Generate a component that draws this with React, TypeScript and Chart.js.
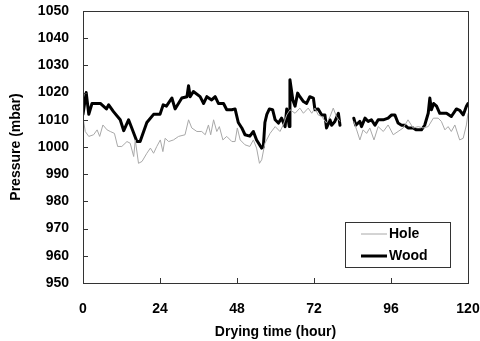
import React, { useEffect, useRef } from "react";
import { Chart, registerables } from "chart.js";

Chart.register(...registerables);

const holeX = [0, 0.7, 1.8, 3.3, 4.4, 5.2, 6.2, 7.5, 8.5, 9.8, 10.8, 12.1, 13.7, 14.7, 15.8, 16.3, 17.3, 18.4, 19.9, 21, 22, 23, 24.1, 24.9, 25.6, 26.7, 28.2, 29.8, 31.8, 32.9, 33.9, 35.5, 37, 38.1, 39.1, 39.8, 40.7, 41.7, 42.5, 43.6, 44.8, 46.4, 47.4, 48.1, 49, 50.5, 52, 53.1, 54.1, 55, 55.7, 56.7, 58.3, 59.9, 61.4, 62.4, 63.5, 64.5, 66.1, 67.6, 68.7, 70.2, 71.3, 72.3, 73.3, 74.4, 75.9, 77, 78, 79, 80.1, 82, 84.4, 85.3, 86.3, 87.3, 88.4, 89.4, 90.7, 92, 93.6, 95.1, 96.7, 98.2, 99.8, 101.3, 102.9, 104.5, 106, 107.6, 109.2, 110.7, 111.7, 112.8, 113.8, 114.8, 115.9, 117.4, 118.5, 119.5, 120];
const holeY = [1011, 1005.7, 1003.9, 1004.5, 1006.3, 1003.9, 1008.1, 1006.3, 1005.7, 1005, 1000.2, 1000.2, 1002, 1001.4, 996.5, 1002.6, 994, 994.7, 997.7, 999.6, 997.7, 1000.2, 1002.6, 998.3, 1003.2, 1002, 1002.6, 1003.9, 1004.5, 1010, 1007, 1005.7, 1005.7, 1004.5, 1008.1, 1004.5, 1010, 1005.7, 1007.5, 1002.6, 1003.9, 1002, 1002, 1007, 1002.6, 1000.8, 1000.2, 1002.6, 999.6, 994, 995.3, 1001.4, 1005, 1007.5, 1005.7, 1008.1, 1011.8, 1013.7, 1012.4, 1014.3, 1012.4, 1014.3, 1012.4, 1014.3, 1011.8, 1011.2, 1008.8, 1011.2, 1014.3, 1011.2, 1009.4, null, 1009.4, 1006.3, 1002.6, 1006.3, 1005, 1007, 1002.6, 1007.5, 1005.7, 1008.1, 1004.5, 1005.7, 1007, 1010, 1007, 1007.5, 1007, 1007.5, 1010.6, 1010.6, 1009.4, 1006.3, 1007.5, 1005.7, 1008.1, 1002.6, 1003.2, 1008.1, 1012.4];

const woodX = [0, 1, 1.8, 2.8, 5.4, 7.3, 8, 9.5, 11.6, 12.7, 14.2, 15.2, 16.8, 17.8, 19.9, 22, 24, 25, 26, 27.7, 28.7, 30.8, 32.4, 32.9, 33.4, 34.4, 36.5, 37.6, 38.6, 40.1, 41.2, 42.2, 43.8, 44.8, 46.4, 47.4, 48.4, 49.5, 50.5, 52, 53.1, 54.1, 55.7, 56.2, 56.7, 57.3, 58.1, 59.1, 59.9, 60.9, 61.9, 63, 63.5, 64.3, 64.5, 65.4, 66.1, 66.9, 67.6, 68.7, 69.7, 70.7, 71.8, 72.3, 73.3, 74.4, 75.4, 75.9, 77, 77.5, 78.5, 79.6, 80.1, 82, 84.4, 85, 86.3, 86.8, 87.9, 88.9, 89.9, 91, 92, 93.6, 95.1, 96.2, 97.2, 98.2, 99.3, 100.3, 101.3, 102.9, 103.9, 105.5, 106.5, 107.6, 108.1, 108.6, 109.3, 110.2, 111.2, 113.3, 114.8, 116.4, 117.4, 118.5, 119.5, 120];
const woodY = [1012, 1020, 1012, 1016, 1016, 1014, 1015.5, 1013, 1010, 1006, 1010, 1007, 1002, 1002, 1009, 1012, 1012, 1015.5, 1015, 1018, 1014, 1018, 1018.5, 1022.5, 1018.5, 1020.4, 1018.5, 1016, 1018.5, 1017.3, 1018.5, 1016, 1016, 1013.7, 1013.7, 1014, 1009, 1007, 1004.5, 1004, 1005.7, 1002.6, 999.6, 1000, 1009, 1012, 1014, 1013.7, 1010, 1008.8, 1010.6, 1007.5, 1014, 1007.5, 1024.7, 1017.3, 1015, 1019.8, 1018.5, 1016.7, 1016, 1018.5, 1018, 1013.7, 1014, 1011.8, 1011.8, 1007, 1010, 1008, 1009.4, 1012.4, 1008, null, 1010.6, 1008, 1009.4, 1007.5, 1010.6, 1009.4, 1010, 1008, 1010, 1010, 1010.6, 1011.8, 1011.8, 1008.8, 1008, 1008, 1007, 1007, 1006.3, 1006.3, 1008, 1012.4, 1018, 1013.7, 1016, 1015, 1012.4, 1012.4, 1011.2, 1014, 1013.5, 1011.8, 1015, 1016];

const seriesNames = ["Hole", "Wood"];
const xTicks = [0, 24, 48, 72, 96, 120];
const yMin = 950;
const yMax = 1050;

const FONT = "'Liberation Sans', Arial, sans-serif";

const framePlugin = {
  id: "frame",
  afterDraw(chart: any) {
    const { ctx, chartArea, scales } = chart;
    const { left, right, top, bottom } = chartArea;
    ctx.save();
    ctx.strokeStyle = "#333";
    ctx.lineWidth = 1;
    ctx.strokeRect(left + 0.5, top + 0.5, right - left, bottom - top);
    ctx.beginPath();
    for (let v = yMin; v <= yMax; v += 10) {
      const y = Math.round(scales.y.getPixelForValue(v)) + 0.5;
      ctx.moveTo(left, y);
      ctx.lineTo(left + 5, y);
    }
    for (const t of xTicks) {
      const x = Math.round(scales.x.getPixelForValue(t)) + 0.5;
      ctx.moveTo(x, bottom);
      ctx.lineTo(x, bottom - 5);
    }
    ctx.stroke();
    // legend box
    const bx = 345, by = 222, bw = 105, bh = 45;
    ctx.strokeStyle = "#333";
    ctx.fillStyle = "#fff";
    ctx.fillRect(bx, by, bw, bh);
    ctx.strokeRect(bx + 0.5, by + 0.5, bw, bh);
    const ds = chart.data.datasets;
    const rows = [234, 256];
    ctx.font = `bold 14px ${FONT}`;
    ctx.textBaseline = "middle";
    ctx.textAlign = "left";
    rows.forEach((ry: number, i: number) => {
      ctx.strokeStyle = ds[i].borderColor;
      ctx.lineWidth = ds[i].borderWidth;
      ctx.beginPath();
      ctx.moveTo(361, ry);
      ctx.lineTo(387, ry);
      ctx.stroke();
      ctx.fillStyle = "#000";
      ctx.fillText(ds[i].label, 389, ry);
    });
    ctx.restore();
  },
};

export default function App() {
  const ref = useRef<HTMLCanvasElement>(null);
  useEffect(() => {
    document.body.style.margin = "0";
    const hole = holeX.map((x, i) => ({ x, y: holeY[i] }));
    const wood = woodX.map((x, i) => ({ x, y: woodY[i] }));
    const chart = new Chart(ref.current!, {
      type: "line",
      data: {
        datasets: [
          { label: seriesNames[0], data: hole, borderColor: "#a8a8a8", borderWidth: 1, pointRadius: 0, tension: 0, spanGaps: false, borderJoinStyle: "round" },
          { label: seriesNames[1], data: wood, borderColor: "#000", borderWidth: 3, pointRadius: 0, tension: 0, spanGaps: false, borderJoinStyle: "round", borderCapStyle: "round" },
        ],
      },
      options: {
        animation: false,
        responsive: false,
        devicePixelRatio: 1,
        layout: { padding: { left: 6, right: 12, top: 11, bottom: 0 } },
        plugins: { legend: { display: false }, tooltip: { enabled: false } },
        scales: {
          x: {
            type: "linear",
            min: 0,
            max: 120,
            afterBuildTicks: (s: any) => { s.ticks = xTicks.map((v) => ({ value: v })); },
            afterFit: (s: any) => { s.height = 341 - 283; s.paddingLeft = 0; s.paddingRight = 0; },
            grid: { display: false, drawTicks: false },
            border: { display: false },
            ticks: { color: "#000", font: { family: FONT, size: 14, weight: "bold" }, padding: 18, maxRotation: 0 },
            title: { display: true, text: "Drying time (hour)", color: "#000", font: { family: FONT, size: 14, weight: "bold" }, padding: { top: 4, bottom: 0 } },
          },
          y: {
            min: yMin,
            max: yMax,
            ticks: { stepSize: 10, color: "#000", font: { family: FONT, size: 14, weight: "bold" }, padding: 14, callback: (v: any) => String(v) },
            afterFit: (s: any) => { s.width = 83 - 6; s.paddingTop = 0; s.paddingBottom = 0; },
            grid: { display: false, drawTicks: false },
            border: { display: false },
            title: { display: true, text: "Pressure (mbar)", color: "#000", font: { family: FONT, size: 14, weight: "bold" }, padding: { top: 2, bottom: 0 } },
          },
        },
      },
      plugins: [framePlugin],
    });
    return () => chart.destroy();
  }, []);
  return (
    <div style={{ position: "absolute", left: 0, top: 0, width: 480, height: 341 }}>
      <canvas ref={ref} width={480} height={341} />
    </div>
  );
}
